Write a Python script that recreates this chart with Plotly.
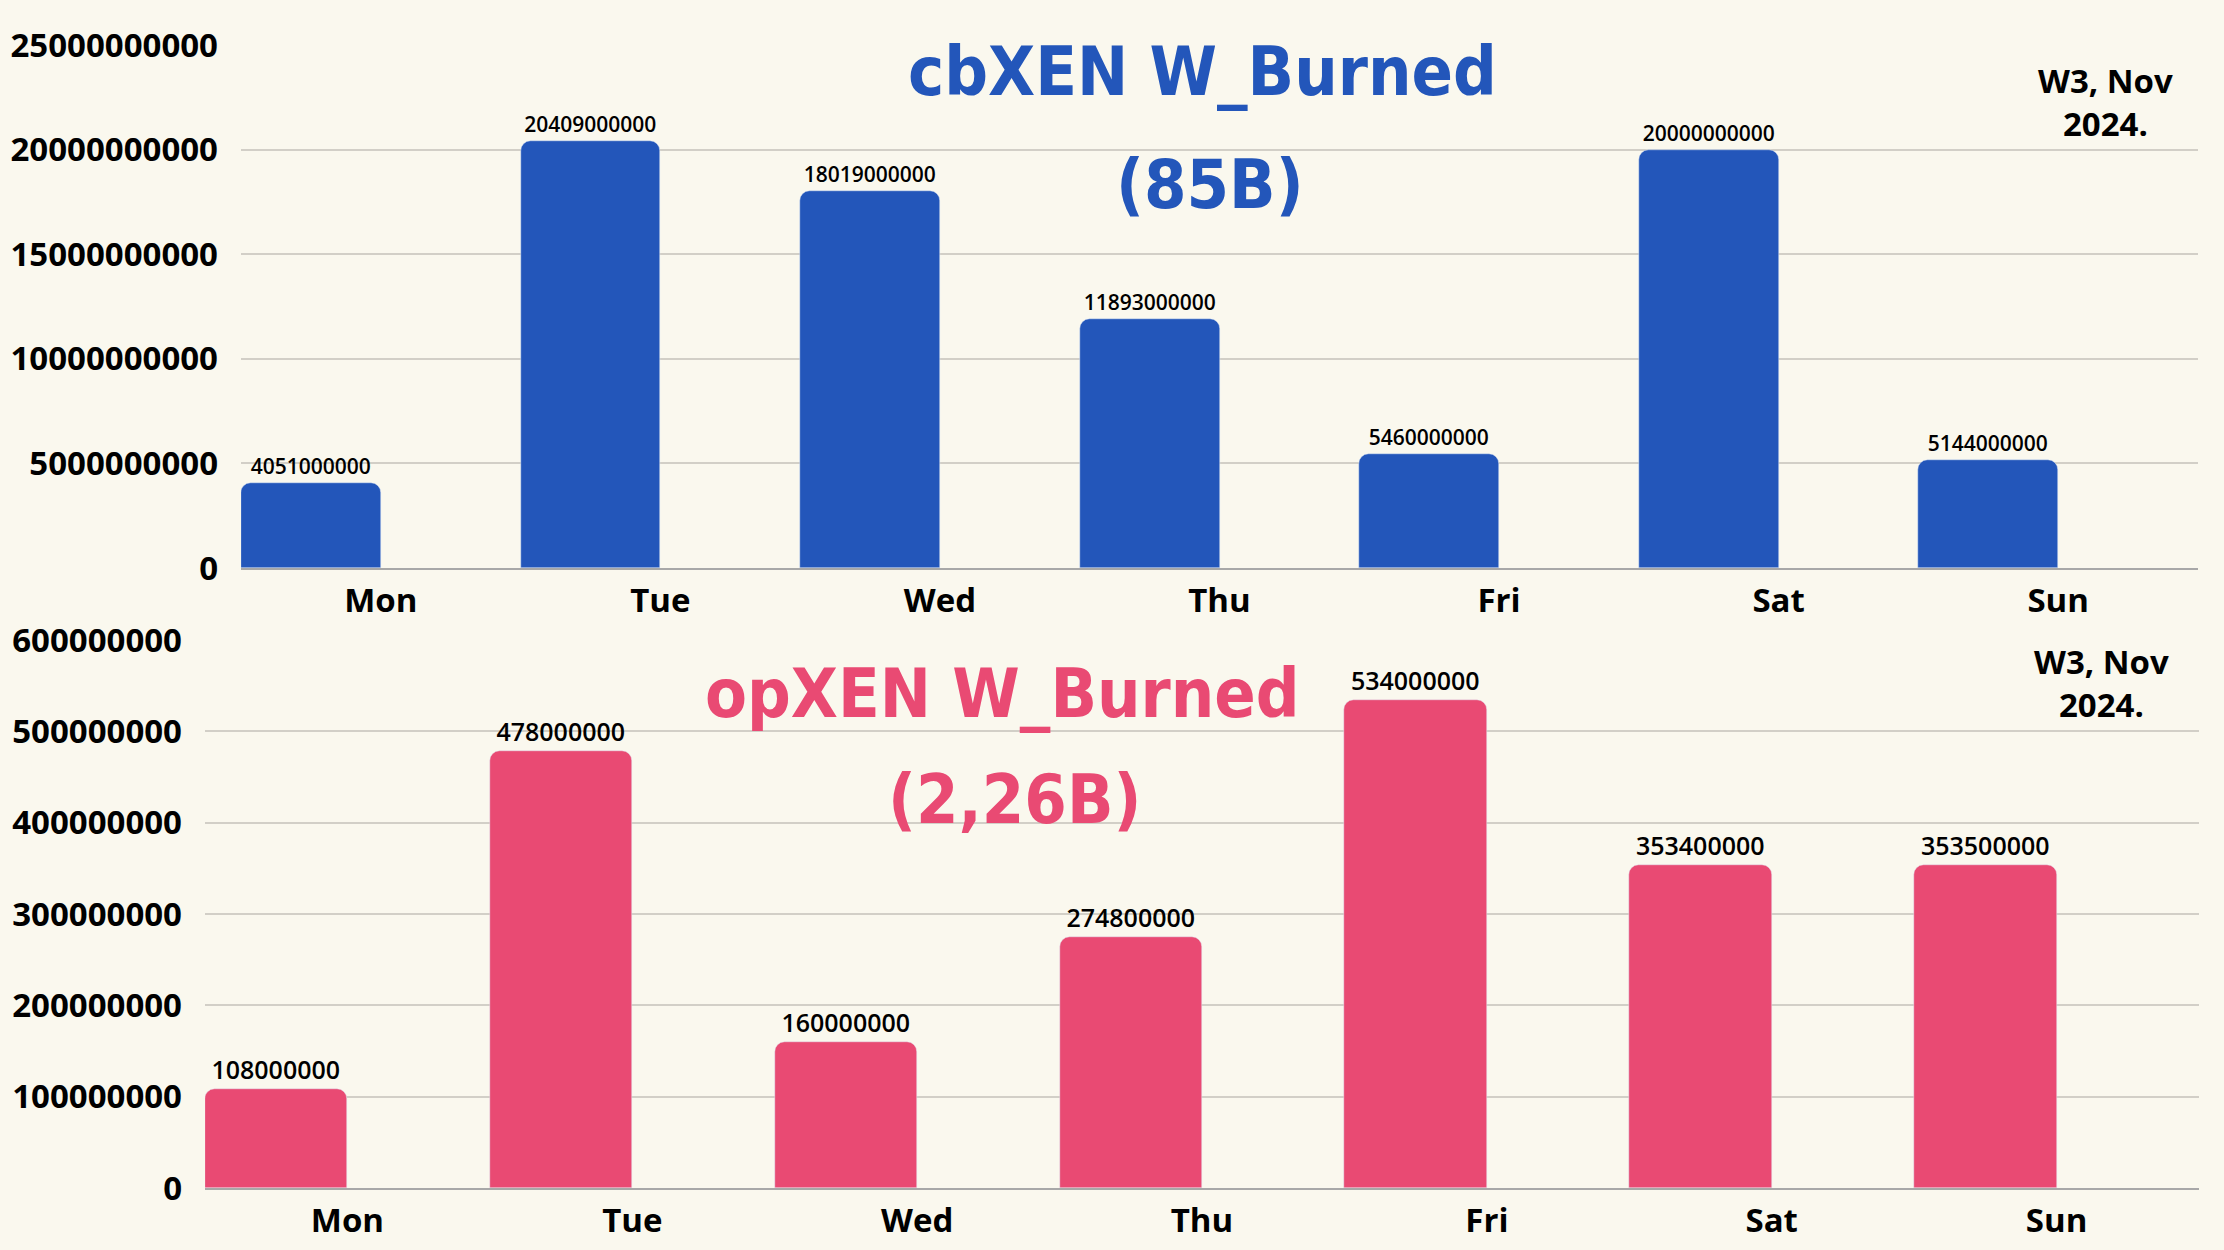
import plotly.graph_objects as go

days = ["Mon", "Tue", "Wed", "Thu", "Fri", "Sat", "Sun"]
cb_burned = [4051000000, 20409000000, 18019000000, 11893000000, 5460000000, 20000000000, 5144000000]
op_burned = [108000000, 478000000, 160000000, 274800000, 534000000, 353400000, 353500000]
cb_ticks = [0, 5000000000, 10000000000, 15000000000, 20000000000, 25000000000]
op_ticks = [0, 100000000, 200000000, 300000000, 400000000, 500000000, 600000000]

W, H = 2224, 1250
BG = "#FAF8EE"
BLUE = "#2356BA"
PINK = "#E94A73"
GRID = "#D2CFC7"
AXIS = "#A8A8A8"
TICKFONT = dict(family="Open Sans", size=33, color="#000000", weight=700)
TITLEFONT = "DejaVu Sans Condensed, Liberation Sans Narrow, DejaVu Sans, sans-serif"

fig = go.Figure()
fig.add_trace(go.Bar(
    x=days, y=cb_burned, xaxis="x", yaxis="y",
    marker=dict(color=BLUE, cornerradius=10),
    width=0.5, offset=-0.5,
    text=[str(v) for v in cb_burned], textposition="outside",
    textfont=dict(family="Open Sans", size=21, color="#000000", weight=600),
    cliponaxis=False, showlegend=False,
))
fig.add_trace(go.Bar(
    x=days, y=op_burned, xaxis="x2", yaxis="y2",
    marker=dict(color=PINK, cornerradius=10),
    width=0.5, offset=-0.5,
    text=[str(v) for v in op_burned], textposition="outside",
    textfont=dict(family="Open Sans", size=25, color="#000000", weight=600),
    cliponaxis=False, showlegend=False,
))

def xax(domain, anchor):
    return dict(domain=domain, anchor=anchor, type="category", range=[-0.5, 6.5],
                showgrid=False, showline=True, linecolor=AXIS, linewidth=2,
                tickfont=TICKFONT, ticks="", ticklabelstandoff=2, zeroline=False,
                automargin=False)

def yax(domain, anchor, rng, ticks):
    return dict(domain=domain, anchor=anchor, range=rng, tickvals=ticks,
                ticktext=[str(t) for t in ticks], showgrid=True, gridcolor=GRID,
                gridwidth=1.5, zeroline=False, showline=False, tickfont=TICKFONT,
                ticks="", ticklabelstandoff=22, automargin=False)

def label(text, xpx, ypx, size, color, family):
    return dict(text=text, x=xpx / W, y=1 - ypx / H, xref="paper", yref="paper",
                xanchor="center", yanchor="middle", showarrow=False,
                font=dict(family=family, size=size, color=color, weight=700))

fig.update_layout(
    width=W, height=H, autosize=False,
    margin=dict(l=0, r=0, t=0, b=0, pad=0),
    paper_bgcolor=BG, plot_bgcolor=BG,
    bargap=0, showlegend=False,
    xaxis=xax([241 / W, 2198 / W], "y"),
    yaxis=yax([1 - 568 / H, 1 - 45 / H], "x", [0, 25000000000], cb_ticks),
    xaxis2=xax([205 / W, 2199 / W], "y2"),
    yaxis2=yax([1 - 1188 / H, 1 - 640 / H], "x2", [0, 600000000], op_ticks),
    annotations=[
        label("cbXEN W_Burned", 1202, 72, 68, BLUE, TITLEFONT),
        label("(85B)", 1210, 184, 68, BLUE, TITLEFONT),
        label("opXEN W_Burned", 1002, 693, 68, PINK, TITLEFONT),
        label("(2,26B)", 1014, 799, 68, PINK, TITLEFONT),
        label("W3, Nov<br>2024.", 2105, 102, 33, "#000000", "Open Sans"),
        label("W3, Nov<br>2024.", 2101, 683, 33, "#000000", "Open Sans"),
    ],
)

fig.write_html(
    "out.html",
    config={"displayModeBar": False},
    post_script="document.body.style.margin='0';document.body.style.overflow='hidden';",
)
